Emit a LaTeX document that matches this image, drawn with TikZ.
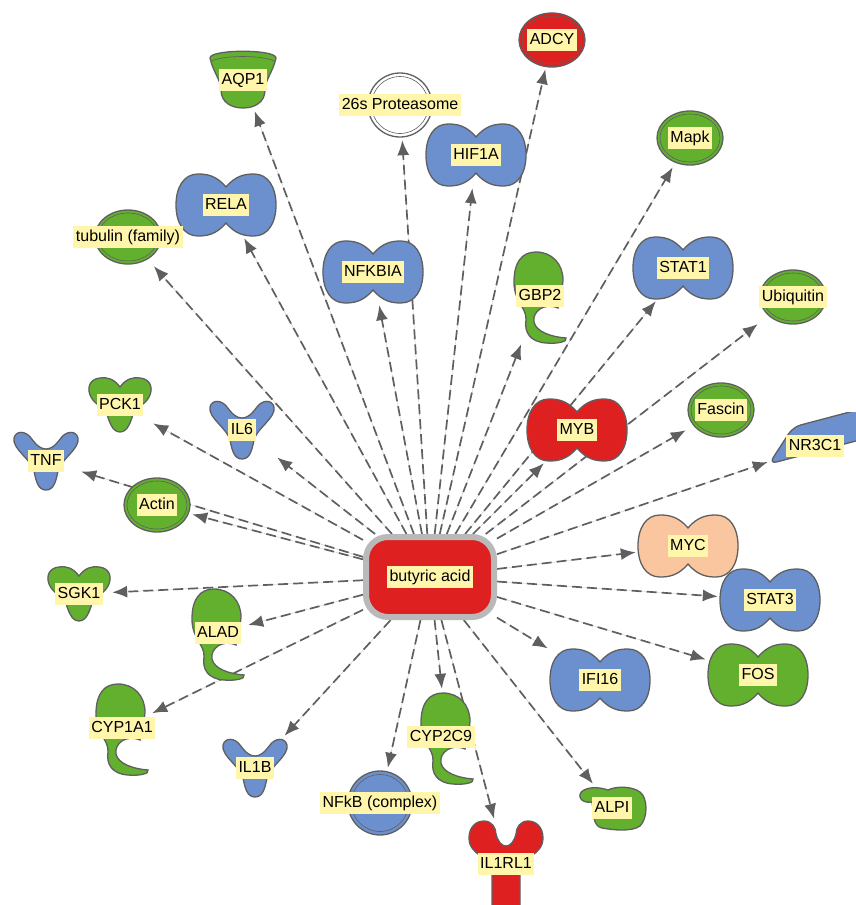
\documentclass[tikz,border=0pt]{standalone}
\usepackage{fontspec}
\setmainfont{Liberation Sans}
\usetikzlibrary{arrows.meta}
\pgfdeclarelayer{bg}
\pgfsetlayers{bg,main}
\definecolor{ipagreen}{RGB}{98,176,46}
\definecolor{ipablue}{RGB}{108,143,206}
\definecolor{ipared}{RGB}{222,32,32}
\definecolor{ipapeach}{RGB}{250,198,160}
\definecolor{edgegray}{RGB}{95,95,95}
\definecolor{chemgray}{RGB}{185,185,185}
\definecolor{tagyellow}{RGB}{255,246,172}
\definecolor{linegray}{RGB}{95,95,95}
\begin{document}
\begin{tikzpicture}[x=1pt,y=-1pt]
        \tikzstyle{body} = [draw=edgegray, line width=1.3pt, shift={(path picture bounding box.center)}, x=1pt, y=-1pt]
        \tikzstyle{tag} = [fill=tagyellow, text=black, font=\fontsize{16}{18}\selectfont, inner xsep=2.5pt, inner ysep=3.6pt, text height=12pt, text depth=3.5pt]
        \tikzstyle{line} = [-{Latex[length=15pt,width=12pt]}, draw=linegray, fill=linegray, line width=1.7pt, dash pattern=on 10pt off 5pt]
        \tikzstyle{chem} = [rectangle, rounded corners=22pt, minimum width=128pt, minimum height=80pt, fill=ipared, draw=chemgray, line width=6pt]
        % molecule shapes
        \tikzset{
          tf/.style={minimum width=104pt, minimum height=66pt, path picture={
            \draw[body, fill=#1] (0,-18) .. controls (-10,-30) and (-20,-31) .. (-28,-31) .. controls (-42,-31) and (-50,-18) .. (-50,0) .. controls (-50,18) and (-42,31) .. (-28,31) .. controls (-20,31) and (-10,30) .. (0,18) .. controls (10,30) and (20,31) .. (28,31) .. controls (42,31) and (50,18) .. (50,0) .. controls (50,-18) and (42,-31) .. (28,-31) .. controls (20,-31) and (10,-30) .. (0,-18) -- cycle;}},
          grp/.style={minimum width=70pt, minimum height=58pt, path picture={
            \draw[body, fill=#1] (0,0) ellipse (33pt and 27pt);
            \draw[body, line width=0.6pt] (0,0) ellipse (30pt and 24pt);}},
          cplx/.style={minimum width=70pt, minimum height=70pt, path picture={
            \draw[body, fill=#1] (0,0) circle (32pt);
            \draw[body, line width=0.6pt] (0,0) circle (28.5pt);}},
          enz/.style={minimum width=60pt, minimum height=96pt, path picture={
            \draw[body, fill=#1] (18,12) .. controls (4,6) and (-8,16) .. (-6,26) .. controls (-4,36) and (12,41) .. (26,42) .. controls (28,46) and (16,48) .. (6,47) .. controls (-10,46) and (-16,36) .. (-14,24) .. controls (-13,12) and (-26,6) .. (-26,-14) .. controls (-26,-34) and (-18,-44) .. (-4,-44) .. controls (12,-44) and (23,-32) .. (23,-16) .. controls (23,-4) and (14,0) .. (10,2) .. controls (16,4) and (20,8) .. (18,12) -- cycle;}},
          cyto/.style={minimum width=70pt, minimum height=64pt, path picture={
            \draw[body, fill=#1] (0,29) .. controls (-8,29) and (-10,20) .. (-12,10) .. controls (-15,-2) and (-34,-12) .. (-32,-23) .. controls (-30,-31) and (-20,-30) .. (-15,-23) .. controls (-9,-15) and (-5,-12) .. (0,-12) .. controls (5,-12) and (9,-15) .. (15,-23) .. controls (20,-30) and (30,-31) .. (32,-23) .. controls (34,-12) and (15,-2) .. (12,10) .. controls (10,20) and (8,29) .. (0,29) -- cycle;}},
          kin/.style={minimum width=66pt, minimum height=60pt, path picture={
            \draw[body, fill=#1] (0,-18) .. controls (-6,-26) and (-12,-28) .. (-20,-27) .. controls (-30,-26) and (-33,-18) .. (-30,-10) .. controls (-27,-2) and (-18,2) .. (-14,6) .. controls (-11,16) and (-8,27) .. (0,27) .. controls (8,27) and (11,16) .. (14,6) .. controls (18,2) and (27,-2) .. (30,-10) .. controls (33,-18) and (30,-26) .. (20,-27) .. controls (12,-28) and (6,-26) .. (0,-18) -- cycle;}},
          trp/.style={minimum width=70pt, minimum height=62pt, path picture={
            \draw[body, fill=#1] (-33,-22) .. controls (-33,-31) and (33,-31) .. (33,-22) .. controls (30,-8) and (22,0) .. (22,10) .. controls (22,22) and (12,28) .. (0,28) .. controls (-12,28) and (-22,22) .. (-22,10) .. controls (-22,0) and (-30,-8) .. (-33,-22) -- cycle;
            \draw[body, line width=0.6pt] (-31,-19) .. controls (-20,-25) and (20,-25) .. (31,-19);}},
          rcp/.style={minimum width=78pt, minimum height=90pt, path picture={
            \draw[body, fill=#1] (-14,46) -- (-14,2) .. controls (-14,-6) and (-37,-8) .. (-37,-26) .. controls (-37,-37) and (-30,-43) .. (-22,-43) .. controls (-14,-43) and (-10,-36) .. (-10,-30) .. controls (-8,-22) and (-4,-18) .. (0,-18) .. controls (4,-18) and (8,-22) .. (10,-30) .. controls (10,-36) and (14,-43) .. (22,-43) .. controls (30,-43) and (37,-37) .. (37,-26) .. controls (37,-8) and (14,-6) .. (14,2) -- (14,46) -- cycle;}},
          phos/.style={minimum width=72pt, minimum height=48pt, path picture={
            \draw[body, fill=#1] (-20,-6) .. controls (-32,-4) and (-36,-14) .. (-28,-18) .. controls (-20,-22) and (-10,-20) .. (-4,-18) .. controls (4,-22) and (20,-22) .. (28,-16) .. controls (36,-10) and (36,10) .. (28,18) .. controls (20,24) and (0,22) .. (-10,20) .. controls (-20,18) and (-18,4) .. (-20,-6) -- cycle;}},
          nrec/.style={minimum width=94pt, minimum height=68pt, path picture={
            \draw[body, fill=#1, rounded corners=8pt] (-22,-19) -- (-46,18) -- (56,-9) -- (80,-46) -- cycle;}}
        }
        \useasboundingbox (0,0) rectangle (855,905);
        \node[chem, label={[tag]center:butyric acid}] (ba) at (430,577) {};
        \node[grp=ipared, label={[tag]center:ADCY}] (adcy) at (552,40) {};
        \node[trp=ipagreen, label={[tag]center:AQP1}] (aqp1) at (243,80) {};
        \node[cplx=white, label={[tag]center:26s Proteasome}] (prot) at (400,105) {};
        \node[tf=ipablue, label={[tag]center:HIF1A}] (hif1a) at (476,155) {};
        \node[grp=ipagreen, label={[tag]center:Mapk}] (mapk) at (690,138) {};
        \node[tf=ipablue, label={[tag]center:RELA}] (rela) at (226,205) {};
        \node[grp=ipagreen, label={[tag]center:tubulin (family)}] (tub) at (128,237) {};
        \node[tf=ipablue, label={[tag]center:NFKBIA}] (nfkbia) at (373,272) {};
        \node[enz=ipagreen, label={[tag]center:GBP2}] (gbp2) at (540,296) {};
        \node[tf=ipablue, label={[tag]center:STAT1}] (stat1) at (683,268) {};
        \node[grp=ipagreen, label={[tag]center:Ubiquitin}] (ubq) at (793,297) {};
        \node[kin=ipagreen, label={[tag]center:PCK1}] (pck1) at (120,405) {};
        \node[cyto=ipablue, label={[tag]center:IL6}] (il6) at (242,430) {};
        \node[cyto=ipablue, label={[tag]center:TNF}] (tnf) at (46,461) {};
        \node[tf=ipared, label={[tag]center:MYB}] (myb) at (577,430) {};
        \node[grp=ipagreen, label={[tag]center:Fascin}] (fascin) at (721,410) {};
        \node[nrec=ipablue, label={[tag]center:NR3C1}] (nr3c1) at (815,446) {};
        \node[grp=ipagreen, label={[tag]center:Actin}] (actin) at (157,505) {};
        \node[tf=ipapeach, label={[tag]center:MYC}] (myc) at (688,546) {};
        \node[kin=ipagreen, label={[tag]center:SGK1}] (sgk1) at (79,594) {};
        \node[enz=ipagreen, label={[tag]center:ALAD}] (alad) at (218,633) {};
        \node[tf=ipablue, label={[tag]center:STAT3}] (stat3) at (770,600) {};
        \node[tf=ipagreen, label={[tag]center:FOS}] (fos) at (758,675) {};
        \node[tf=ipablue, label={[tag]center:IFI16}] (ifi16) at (600,680) {};
        \node[enz=ipagreen, label={[tag]center:CYP1A1}] (cyp1a1) at (122,728) {};
        \node[cyto=ipablue, label={[tag]center:IL1B}] (il1b) at (255,768) {};
        \node[cplx=ipablue, label={[tag]center:NFkB (complex)}] (nfkb) at (380,803) {};
        \node[enz=ipagreen, label={[tag,xshift=-6pt]center:CYP2C9}] (cyp2c9) at (447,737) {};
        \node[rcp=ipared, label={[tag]center:IL1RL1}] (il1rl1) at (506,864) {};
        \node[phos=ipagreen, label={[tag]center:ALPI}] (alpi) at (612,808) {};
        \begin{pgfonlayer}{bg}
        \foreach \t in {adcy,aqp1,prot,hif1a,mapk,rela,tub,nfkbia,gbp2,stat1,ubq,pck1,il6,tnf,myb,fascin,nr3c1,actin,myc,sgk1,alad,stat3,fos,ifi16,cyp1a1,il1b,nfkb,cyp2c9,il1rl1,alpi}
          \draw[line] (ba) to (\t);
        \end{pgfonlayer}
\end{tikzpicture}
\end{document}
